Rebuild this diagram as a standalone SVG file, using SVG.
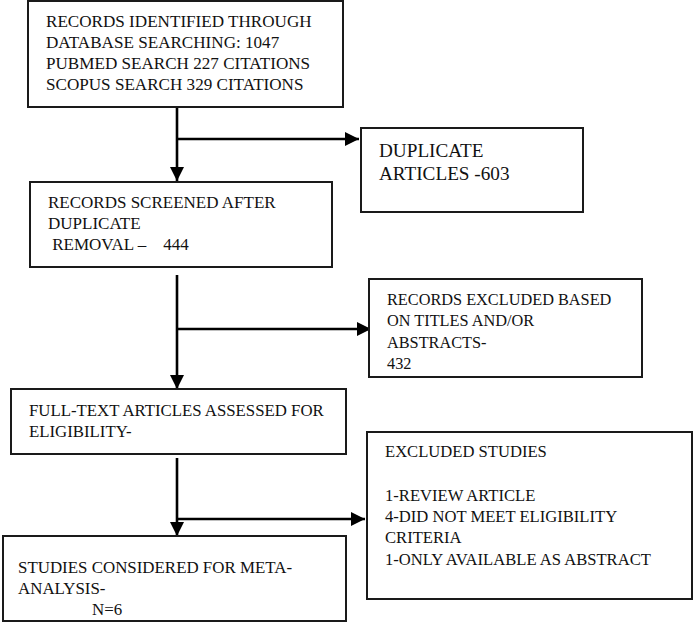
<svg xmlns="http://www.w3.org/2000/svg" width="697" height="622" viewBox="0 0 697 622">
<style>
.box{fill:#fff;stroke:#1a1a1a;stroke-width:2}
text{font-family:"Liberation Serif","Times New Roman",serif;fill:#111;font-size:16.6px}
.s1{font-size:17.1px}
.s3{font-size:17px}
.s4{font-size:16.3px}
.s5{font-size:16.8px}
.s7{font-size:16.9px}
.big{font-size:19.2px}
.conn{stroke:#000;stroke-width:2.6;fill:none}
</style>
<defs>
<marker id="ah" markerUnits="userSpaceOnUse" markerWidth="14" markerHeight="14" viewBox="0 0 14 14" refX="14" refY="7" orient="auto">
<path d="M0,0 L14,7 L0,14 Z" fill="#000"/>
</marker>
</defs>
<rect width="697" height="622" fill="#fff"/>
<g id="connectors">
<line class="conn" x1="177" y1="107" x2="177" y2="181" marker-end="url(#ah)"/>
<line class="conn" x1="177" y1="139" x2="359" y2="139" marker-end="url(#ah)"/>
<line class="conn" x1="177" y1="275" x2="177" y2="389" marker-end="url(#ah)"/>
<line class="conn" x1="177" y1="329" x2="371" y2="329" marker-end="url(#ah)"/>
<line class="conn" x1="177" y1="458" x2="177" y2="536" marker-end="url(#ah)"/>
<line class="conn" x1="177" y1="519" x2="365" y2="519" marker-end="url(#ah)"/>
</g>
<g id="n1" class="s1">
<rect class="box" x="28" y="1" width="315" height="106"/>
<text class="s1" x="46" y="27">RECORDS IDENTIFIED THROUGH</text>
<text class="s1" x="46" y="48">DATABASE SEARCHING: 1047</text>
<text class="s1" x="46" y="69">PUBMED SEARCH 227 CITATIONS</text>
<text class="s1" x="46" y="90">SCOPUS SEARCH 329 CITATIONS</text>
</g>
<g id="n2">
<rect class="box" x="361" y="128" width="222" height="84"/>
<text class="big" x="379" y="157">DUPLICATE</text>
<text class="big" x="379" y="180">ARTICLES -603</text>
</g>
<g id="n3">
<rect class="box" x="30" y="182" width="302" height="85"/>
<text class="s3" x="48" y="208">RECORDS SCREENED AFTER</text>
<text class="s3" x="48" y="229">DUPLICATE</text>
<text class="s3" x="48" y="250" xml:space="preserve"> REMOVAL –    444</text>
</g>
<g id="n4">
<rect class="box" x="369" y="279" width="273" height="98"/>
<text class="s4" x="387" y="305">RECORDS EXCLUDED BASED</text>
<text class="s4" x="387" y="326">ON TITLES AND/OR</text>
<text class="s4" x="387" y="348">ABSTRACTS-</text>
<text class="s4" x="387" y="369">432</text>
</g>
<g id="n5">
<rect class="box" x="11" y="389" width="335" height="65"/>
<text class="s5" x="29" y="416">FULL-TEXT ARTICLES ASSESSED FOR</text>
<text class="s5" x="29" y="437">ELIGIBILITY-</text>
</g>
<g id="n6">
<rect class="box" x="367" y="432" width="325" height="167"/>
<text x="385" y="457">EXCLUDED STUDIES</text>
<text x="385" y="501">1-REVIEW ARTICLE</text>
<text x="385" y="522">4-DID NOT MEET ELIGIBILITY</text>
<text x="385" y="543">CRITERIA</text>
<text x="385" y="565">1-ONLY AVAILABLE AS ABSTRACT</text>
</g>
<g id="n7">
<rect class="box" x="3" y="536" width="343" height="85"/>
<text class="s7" x="18" y="573">STUDIES CONSIDERED FOR META-</text>
<text class="s7" x="18" y="594">ANALYSIS-</text>
<text class="s7" x="92" y="615">N=6</text>
</g>
</svg>
